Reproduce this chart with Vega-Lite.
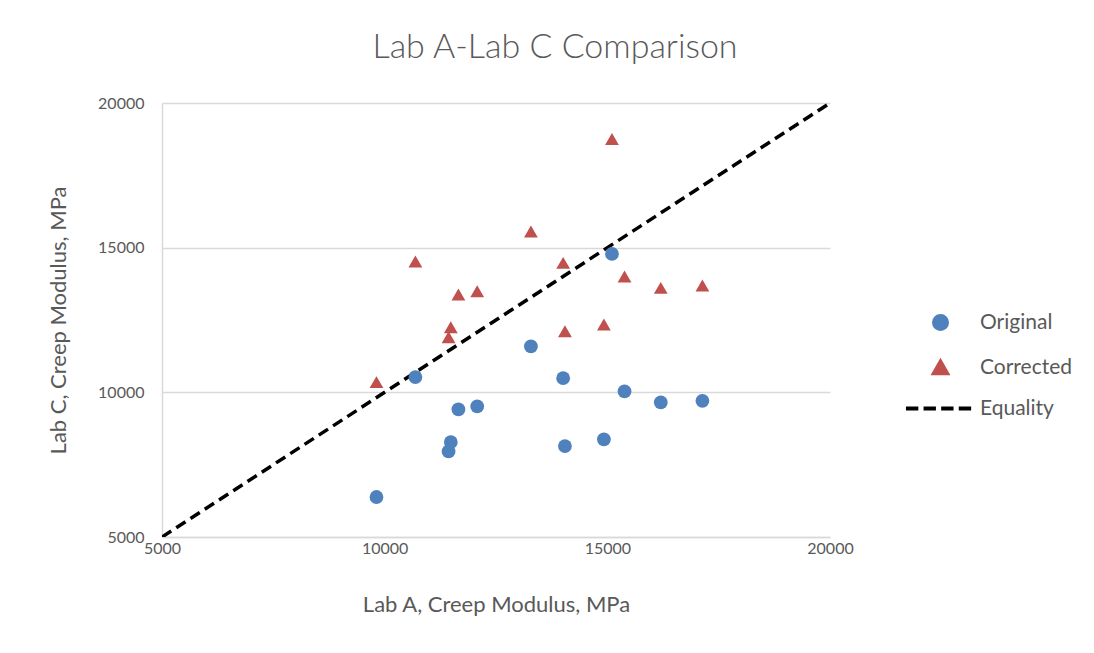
{
  "$schema": "https://vega.github.io/schema/vega-lite/v6.json",
  "autosize": {"type": "none"},
  "width": 668,
  "height": 434,
  "padding": {"left": 162, "top": 103, "right": 264, "bottom": 116},
  "background": "white",
  "config": {
    "font": "Lato",
    "view": {"stroke": null},
    "axis": {"labelColor": "#595959", "titleColor": "#595959", "labelFont": "Lato", "titleFont": "Lato", "titleFontWeight": "normal"},
    "legend": {"labelColor": "#595959", "labelFont": "Lato"}
  },
  "title": {
    "text": "Lab A-Lab C Comparison",
    "fontSize": 34,
    "fontWeight": 300,
    "color": "#595959",
    "font": "Lato",
    "anchor": "middle",
    "dx": 59,
    "offset": 30
  },
  "datasets": {
    "pts": [
      {"labA": 9816, "labC": 6382, "series": "Original"},
      {"labA": 10690, "labC": 10526, "series": "Original"},
      {"labA": 11656, "labC": 9409, "series": "Original"},
      {"labA": 12078, "labC": 9513, "series": "Original"},
      {"labA": 11485, "labC": 8281, "series": "Original"},
      {"labA": 11435, "labC": 7958, "series": "Original"},
      {"labA": 13284, "labC": 11585, "series": "Original"},
      {"labA": 14008, "labC": 10491, "series": "Original"},
      {"labA": 14048, "labC": 8143, "series": "Original"},
      {"labA": 14923, "labC": 8373, "series": "Original"},
      {"labA": 15104, "labC": 14785, "series": "Original"},
      {"labA": 15386, "labC": 10031, "series": "Original"},
      {"labA": 16200, "labC": 9651, "series": "Original"},
      {"labA": 17135, "labC": 9708, "series": "Original"},
      {"labA": 9816, "labC": 10353, "series": "Corrected"},
      {"labA": 10690, "labC": 14520, "series": "Corrected"},
      {"labA": 11656, "labC": 13381, "series": "Corrected"},
      {"labA": 12078, "labC": 13496, "series": "Corrected"},
      {"labA": 11485, "labC": 12252, "series": "Corrected"},
      {"labA": 11435, "labC": 11907, "series": "Corrected"},
      {"labA": 13284, "labC": 15556, "series": "Corrected"},
      {"labA": 14008, "labC": 14474, "series": "Corrected"},
      {"labA": 14048, "labC": 12114, "series": "Corrected"},
      {"labA": 14923, "labC": 12345, "series": "Corrected"},
      {"labA": 15104, "labC": 18757, "series": "Corrected"},
      {"labA": 15386, "labC": 14002, "series": "Corrected"},
      {"labA": 16200, "labC": 13611, "series": "Corrected"},
      {"labA": 17135, "labC": 13691, "series": "Corrected"}
    ],
    "eq": [
      {"labA": 5000, "labC": 5000, "series": "Equality"},
      {"labA": 20000, "labC": 20000, "series": "Equality"}
    ]
  },
  "encoding": {
    "x": {
      "field": "labA", "type": "quantitative",
      "scale": {"domain": [5000, 20000], "nice": false, "zero": false},
      "axis": {
        "title": "Lab A, Creep Modulus, MPa", "values": [5000, 10000, 15000, 20000],
        "format": "d", "grid": false, "ticks": false, "domainColor": "#d9d9d9", "domainWidth": 1.5,
        "labelFlush": false, "labelOverlap": false, "labelBound": false,
        "labelFontSize": 16, "labelPadding": 3, "titleFontSize": 22, "titlePadding": 38
      }
    },
    "y": {
      "field": "labC", "type": "quantitative",
      "scale": {"domain": [5000, 20000], "nice": false, "zero": false},
      "axis": {
        "title": "Lab C, Creep Modulus, MPa", "values": [5000, 10000, 15000, 20000],
        "format": "d", "grid": true, "gridColor": "#d9d9d9", "gridWidth": 1.5, "ticks": false,
        "domainColor": "#d9d9d9", "domainWidth": 1.5,
        "labelFlush": false, "labelOverlap": false, "labelBound": false,
        "labelFontSize": 16, "labelPadding": 18, "titleFontSize": 22, "titlePadding": 27
      }
    }
  },
  "layer": [
    {
      "data": {"name": "eq"},
      "mark": {"type": "line", "strokeWidth": 3.5, "strokeDash": [11, 6], "clip": true},
      "encoding": {
        "color": {"field": "series", "type": "nominal"}
      }
    },
    {
      "data": {"name": "pts"},
      "mark": {"type": "point", "filled": true, "opacity": 1, "size": 190},
      "encoding": {
        "color": {
          "field": "series", "type": "nominal",
          "scale": {"domain": ["Original", "Corrected", "Equality"], "range": ["#4F81BD", "#C0504D", "#000000"]},
          "legend": {
            "title": null, "orient": "none", "legendX": 768, "legendY": 209,
            "padding": 0, "labelFontSize": 21, "labelOffset": 29, "rowPadding": 15,
            "symbolSize": 170, "symbolOpacity": 1,
            "encode": {
              "symbols": {
                "update": {
                  "stroke": {"signal": "datum.value === 'Equality' ? '#000000' : 'transparent'"},
                  "strokeWidth": {"value": 4},
                  "strokeDash": {"value": []}
                }
              }
            }
          }
        },
        "shape": {
          "field": "series", "type": "nominal",
          "scale": {"domain": ["Original", "Corrected", "Equality"], "range": ["circle", "triangle-up", "M-5.3,0H-3.4M-2.6,0H-0.7M0.1,0H2M2.8,0H4.7"]}
        }
      }
    }
  ],
  "resolve": {"scale": {"color": "shared"}}
}
